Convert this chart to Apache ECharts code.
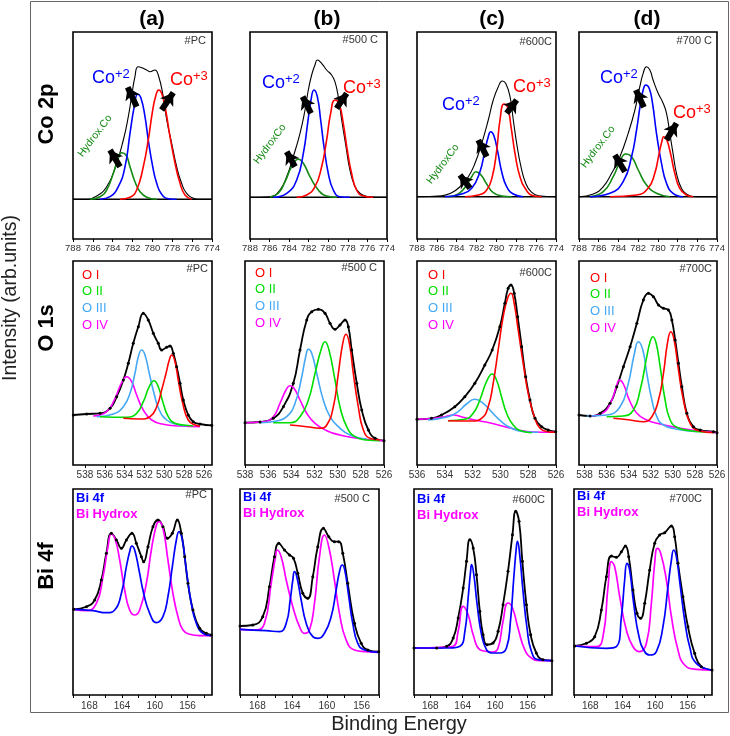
<!DOCTYPE html>
<html><head><meta charset="utf-8">
<script src="https://cdn.jsdelivr.net/npm/echarts@6/dist/echarts.min.js"></script>
<style>html,body{margin:0;padding:0;background:#fff}#c{width:730px;height:736px}</style>
</head><body><div id="c"></div>
<script>
// ---------------- DATA (binding energy eV, intensity arb. units) ----------------
// Co 2p
const coTicks = [774,776,778,780,782,784,786,788];
const co_a_env = [[788,39.7],[786.79,39.7],[785.61,43],[784.61,52.3],[783.77,70.7],[782.93,99],[782.43,122.3],[782.10,142.3],[781.76,162.3],[781.42,172.3],[780.58,169],[780.25,167.3],[779.75,169],[779.41,164],[778.91,142.3],[778.56,119],[778.06,95.7],[777.56,72.3],[777.06,55.7],[776.55,45.7],[775.71,40.3],[775.21,39.7],[774,39.7]];
const co_a_hyd = [[786.29,39.7],[785.28,42.3],[784.61,49],[783.94,65.7],[783.44,80.7],[783.10,86.3],[782.66,84],[782.26,72.3],[781.76,57.3],[781.25,47.3],[780.58,41.7],[779.57,39.7]];
const co_a_c2 = [[785.28,39.7],[784.27,42.3],[783.44,52.3],[782.76,72.3],[782.26,105.7],[781.83,132.3],[781.48,144.7],[781.15,140.7],[780.75,122.3],[780.42,99],[779.97,72.3],[779.57,55.7],[779.07,44.7],[778.40,40.3],[777.56,39.7]];
const co_a_c3 = [[783.27,39.7],[782.26,41.7],[781.59,49],[780.92,72.3],[780.42,99],[779.97,129],[779.64,144],[779.37,149],[779.07,145.7],[778.67,129],[778.23,102.3],[777.72,75.7],[777.22,55.7],[776.72,44],[776.05,39.7]];
const co_a_base = [[788,39.7],[774,39.7]];
const co_a_arrows = [[[781.59,132.3],[782.49,151.7]],[[779.07,129],[777.9,146.3]],[[783.27,72.3],[784.27,89]]];

const co_b_env = [[788,41.7],[785.96,42.3],[784.94,49],[784.25,62.3],[783.58,82.3],[782.89,105.7],[782.38,129],[782.04,149],[781.70,164],[781.36,174],[781.12,179],[780.68,175.7],[780.17,169],[779.66,164],[779.32,157.3],[778.98,142.3],[778.63,119],[778.19,92.3],[777.79,69],[777.27,52.3],[776.76,45.7],[775.92,42.3],[774.04,41.7]];
const co_b_hyd = [[785.96,41.7],[785.11,45.7],[784.42,57.3],[783.74,72.3],[783.06,79.7],[782.55,75.7],[781.87,62.3],[781.02,49],[780.17,43],[779.15,41.7]];
const co_b_c2 = [[785.62,41.7],[784.25,45.7],[783.23,59],[782.55,85.7],[782.11,115.7],[781.77,139],[781.46,149],[781.12,142.3],[780.78,119],[780.44,92.3],[780.00,65.7],[779.49,49],[778.81,42.3],[777.79,41.7]];
const co_b_c3 = [[783.23,41.7],[782.21,44],[781.36,52.3],[780.68,72.3],[780.17,99],[779.76,125.7],[779.32,139],[778.91,135.7],[778.47,115.7],[778.06,89],[777.62,65.7],[777.11,49],[776.43,43],[775.41,41.7]];
const co_b_base = [[788,41.7],[774,41.7]];
const co_b_arrows = [[[781.77,125.7],[782.62,142.3]],[[779.15,130.7],[778.12,145.7]],[[783.40,72.3],[784.25,87.3]]];

const co_c_env = [[787.97,42.3],[785.51,43.3],[784.51,46.3],[783.67,52.3],[782.83,62.3],[782.16,75.7],[781.48,95.7],[780.82,119],[780.32,139],[779.81,152.3],[779.41,158],[779.07,155.7],[778.63,142.3],[778.30,119],[777.96,95.7],[777.53,72.3],[777.05,55.7],[776.52,47.3],[775.78,43.3],[774.03,42.3]];
const co_c_hyd = [[784.85,42.3],[783.84,45],[783.0,54],[782.49,62.3],[782.06,67.3],[781.55,64],[780.98,55],[780.32,46.3],[779.47,43],[778.46,42.3]];
const co_c_c2 = [[785.18,42.3],[783.50,45],[782.49,50.7],[781.66,67.3],[781.15,89],[780.82,102.3],[780.58,107.3],[780.28,104],[779.87,87.3],[779.47,67.3],[778.97,52.3],[778.30,45],[777.30,42.3]];
const co_c_c3 = [[783.17,42.3],[781.83,44],[780.98,49],[780.42,62.3],[779.97,89],[779.64,119],[779.24,135],[778.87,131.7],[778.53,112.3],[778.13,85.7],[777.63,62.3],[776.95,48.3],[776.29,43.3],[775.44,42.3]];
const co_c_base = [[788,42.3],[774,42.3]];
const co_c_arrows = [[[780.98,82.3],[781.83,99]],[[778.97,125.7],[777.96,139]],[[782.66,50.7],[783.67,64]]];

const co_d_env = [[788,42.3],[786.55,45],[785.54,52.3],[784.69,65.7],[783.85,82.3],[783.01,105.7],[782.33,129],[781.83,152.3],[781.49,165.7],[781.15,172.3],[780.81,169],[780.48,159],[779.97,145.7],[779.53,137.3],[779.12,125.7],[778.79,105.7],[778.46,85.7],[778.11,65.7],[777.61,50.7],[777.10,45],[776.09,42.3],[774,42.3]];
const co_d_hyd = [[786.89,42.3],[785.54,47.3],[784.53,62.3],[783.85,77.3],[783.27,85],[782.67,82.3],[781.99,69],[781.15,54],[780.14,45.7],[778.79,42.3]];
const co_d_c2 = [[786.89,42.3],[784.86,45.7],[783.52,57.3],[782.67,82.3],[782.16,109],[781.76,135.7],[781.49,149],[781.22,154],[780.88,150.7],[780.54,135.7],[780.14,105.7],[779.63,75.7],[779.12,55.7],[778.46,45.7],[777.44,42.3]];
const co_d_c3 = [[784.86,42.3],[782.16,44],[780.99,50.7],[780.31,65.7],[779.87,85.7],[779.60,97.3],[779.40,102.3],[779.12,99.7],[778.72,85.7],[778.28,65.7],[777.78,50.7],[777.10,44],[776.43,42.3]];
const co_d_base = [[788,42.3],[774,42.3]];
const co_d_arrows = [[[781.42,131.7],[782.23,149]],[[779.12,99],[778.11,115.7]],[[783.34,67.3],[784.36,84]]];

// O 1s
const oTicksA = [526,528,530,532,534,536,538];
const oTicksB = [526,528,530,532,534,536,538];
const oTicksC = [526,528,530,532,534,536];
const oTicksD = [526,528,530,532,534,536,538];
const o_a_env = [[539.17,50],[537.82,51],[536.48,51.7],[535.47,56.7],[534.80,68.3],[534.13,85],[533.63,101.7],[533.13,121.7],[532.62,138.3],[532.12,151.7],[531.62,145],[531.11,131.7],[530.61,121.7],[530.27,115],[529.77,117.7],[529.43,119],[529.10,111.7],[528.76,98.3],[528.42,81.7],[528.09,65],[527.59,50],[527.09,43.3],[526.41,41],[525.23,39.7]];
const o_a_1 = [[534.13,46.7],[532.45,46],[531.45,48.3],[530.77,58.3],[530.27,75],[529.83,91.7],[529.50,105],[529.26,110],[528.93,103.3],[528.60,85],[528.15,61.7],[527.59,45],[526.91,40],[526.41,39]];
const o_a_2 = [[536.48,48.3],[533.79,47.7],[532.79,51.7],[532.12,63.3],[531.52,78.3],[531.04,84.3],[530.61,78.3],[530.11,61.7],[529.60,48.3],[528.93,41.7],[528.09,40],[527.09,39]];
const o_a_3 = [[536.81,48.3],[535.14,51],[534.13,58.3],[533.46,71.7],[532.96,91.7],[532.62,108.3],[532.28,115],[531.95,110],[531.52,91.7],[531.04,71.7],[530.51,55],[529.76,45],[528.76,40.7],[527.75,39]];
const o_a_4 = [[537.16,49],[535.81,53.3],[534.97,66.7],[534.30,82.3],[533.79,88.3],[533.29,83.3],[532.79,70],[532.12,55],[531.27,45],[530.11,40.7],[528.42,39],[526.41,38.3]];

const o_b_env = [[538,42.3],[536.70,43],[535.56,46.7],[534.69,58.3],[533.83,81.7],[533.25,115],[532.67,145],[532.24,153.3],[531.67,155.7],[531.09,151.7],[530.66,141.7],[530.23,135.7],[529.80,140],[529.36,145],[529.08,138.3],[528.79,115],[528.35,81.7],[527.92,55],[527.35,35],[526.77,26.7],[526,24.3]];
const o_b_1 = [[534.11,40],[532.67,38.3],[531.52,36.7],[530.94,40],[530.37,58.3],[529.94,91.7],[529.56,121.7],[529.28,130.7],[528.99,121.7],[528.65,91.7],[528.22,58.3],[527.78,35],[527.21,26.7],[526.34,25]];
const o_b_2 = [[535.56,42.3],[534.11,42.3],[533.25,48.3],[532.53,65],[531.95,91.7],[531.44,115],[531.09,123.3],[530.75,115],[530.23,85],[529.80,58.3],[529.22,38.3],[528.50,28.3],[527.49,25],[526.34,24.3]];
const o_b_3 = [[536.70,42.3],[535.26,44],[534.40,48.3],[533.68,61.7],[533.10,88.3],[532.76,108.3],[532.53,115.7],[532.24,111.7],[531.81,91.7],[531.24,65],[530.66,48.3],[529.94,38.3],[528.93,30],[527.49,25.7]];
const o_b_4 = [[538,42.3],[536.42,43.3],[535.56,48.3],[534.98,61.7],[534.46,75],[534.11,79.3],[533.77,76.7],[533.25,65],[532.67,51.7],[531.95,41.7],[530.94,34.3],[529.80,30],[528.35,26.7],[526,24.3]];

const o_c_env = [[536,45.7],[534.96,46.7],[534.24,50],[533.28,58.3],[532.56,68.3],[531.84,81.7],[531.12,100],[530.59,115],[530.04,138.3],[529.68,161.7],[529.44,176.7],[529.24,180],[529.01,171.7],[528.76,148.3],[528.47,118.3],[528.18,88.3],[527.87,65],[527.51,46.7],[527.03,38.3],[526.56,35],[526.02,33.3]];
const o_c_1 = [[533.76,44.3],[532.08,44],[531.36,46.7],[530.88,58.3],[530.52,81.7],[530.16,115],[529.80,148.3],[529.48,166.7],[529.24,171.7],[529.01,161.7],[528.72,135],[528.36,101.7],[528.0,71.7],[527.56,48.3],[527.15,36.7],[526.56,33.3],[526.02,32.7]];
const o_c_2 = [[533.76,44.3],[532.56,45.7],[531.96,51.7],[531.48,65],[531.0,83.3],[530.59,91],[530.28,85],[529.92,68.3],[529.55,51.7],[529.08,40],[528.47,34],[527.75,32.3]];
const o_c_3 = [[535.21,45],[533.76,48.3],[533.04,53.3],[532.44,61],[531.84,65.7],[531.24,61.7],[530.64,53.3],[529.92,43.3],[529.19,36.7],[528.23,33.3],[527.28,32.7]];
const o_c_4 = [[536,45.7],[534.72,46.7],[534.0,48.3],[533.40,50],[532.68,47.7],[531.84,45],[530.64,41.7],[529.68,38.3],[528.72,35],[527.75,33],[526.02,32.7]];

const o_d_env = [[538.5,50],[537.50,49],[536.59,51.7],[535.69,61.7],[535.08,78.3],[534.48,98.3],[533.87,118.3],[533.26,141.7],[532.67,165],[532.21,171.7],[531.76,168.3],[531.30,160],[530.85,156.7],[530.40,155],[530.09,145],[529.79,125],[529.49,101.7],[529.18,78.3],[528.73,51.7],[528.13,38.3],[527.52,35],[526.31,33.3],[526,32.3]];
const o_d_1 = [[535.39,46.7],[533.87,45],[532.67,43.3],[531.90,48.3],[531.30,65],[530.85,91.7],[530.49,121.7],[530.18,133.3],[529.88,125],[529.49,95],[529.04,65],[528.43,41.7],[527.67,34.3],[526.31,32.3]];
const o_d_2 = [[535.99,48.3],[534.48,49],[533.57,55],[532.96,75],[532.36,108.3],[532.06,123.3],[531.81,128.3],[531.51,121.7],[531.15,98.3],[530.70,65],[530.24,45],[529.63,37.7],[528.43,34.3],[526.91,32.7]];
const o_d_3 = [[537.80,49],[535.99,50],[534.78,58.3],[534.03,81.7],[533.51,110],[533.12,123.3],[532.72,115],[532.36,91.7],[531.90,65],[531.45,48.3],[530.85,40],[529.63,35.7],[527.82,33.3]];
const o_d_4 = [[537.50,49],[536.29,52.3],[535.53,65],[535.08,80],[534.84,85],[534.48,81],[533.94,65],[533.26,51.7],[532.36,45],[531.15,41],[529.33,36.7],[527.82,34.3],[526,32.3]];

// Bi 4f
const biTicks = [154,156,158,160,162,164,166,168,170];
const biLabels = [156,160,164,168];
const bi_a_env = [[169.91,85.7],[168.36,88.3],[167.35,95],[166.53,115],[165.92,141.7],[165.31,161.7],[164.69,155],[164.08,146.7],[163.47,155],[162.79,161.7],[162.25,151.7],[161.64,138.3],[161.36,133.3],[160.83,148.3],[160.22,168.3],[159.61,175],[159.0,168.3],[158.46,156.7],[157.85,161.7],[157.24,175],[156.75,161.7],[156.34,138.3],[155.94,111.7],[155.33,85],[154.51,66.7],[153.69,61.7],[153.08,60]];
const bi_a_hyd = [[169.91,85.7],[168.36,84.3],[167.14,91.7],[166.33,118.3],[165.72,148.3],[165.31,161],[164.82,155],[164.29,135],[163.68,105],[163.07,85],[162.46,80],[161.85,85],[161.03,111.7],[160.42,145],[159.80,170],[159.49,173.3],[159.0,166.7],[158.39,135],[157.78,101.7],[157.16,78.3],[156.55,65],[155.73,60.7],[154.51,59.3],[153.08,59.3]];
const bi_a_bi = [[169.91,85.7],[167.56,84.3],[165.92,82.3],[164.90,85],[164.08,101.7],[163.47,128.3],[163.07,143.3],[162.79,149],[162.46,145],[161.93,125],[161.36,101.7],[160.62,81.7],[159.80,72.3],[159.0,78.3],[158.39,98.3],[157.85,128.3],[157.36,155],[157.04,163.3],[156.63,155],[156.14,125],[155.53,91.7],[154.92,71.7],[154.11,61.7],[153.08,59.3]];

const bi_b_env = [[170,69],[168.53,70],[167.38,78.3],[166.61,108.3],[166.03,138.3],[165.54,151.7],[164.88,145],[164.30,140],[163.84,136.7],[163.35,121.7],[162.77,101.7],[162.20,96.7],[161.62,118.3],[161.05,148.3],[160.39,166.7],[159.78,158.3],[159.13,153.3],[158.63,153.3],[158.17,141.7],[157.60,111.7],[156.82,71.7],[156.05,51.7],[155.29,45],[154.03,43.3]];
const bi_b_hyd = [[170,65.7],[168.14,65],[167.18,71.7],[166.41,111.7],[165.91,138.3],[165.72,145],[165.26,138.3],[164.68,115],[163.92,88.3],[163.15,68.3],[162.58,61.7],[162.0,65],[161.43,91.7],[160.85,138.3],[160.28,160],[159.78,148.3],[159.13,115],[158.55,81.7],[157.78,55],[156.82,45],[155.48,43.3],[154.03,42.7]];
const bi_b_bi = [[170,65.7],[166.99,64.3],[165.45,63.3],[164.68,71.7],[164.22,95],[163.92,115],[163.73,123.3],[163.46,118.3],[162.96,95],[162.38,71.7],[161.62,58.3],[161.05,56.7],[160.28,61.7],[159.51,78.3],[158.93,105],[158.55,123.3],[158.24,130],[157.94,125],[157.48,98.3],[157.02,71.7],[156.44,51.7],[155.67,45],[154.03,42.7]];

const bi_c_env = [[170,47],[167.21,47],[165.98,48.7],[165.17,57],[164.56,77],[163.94,107],[163.53,133.7],[163.12,155.3],[162.71,147],[162.30,120.3],[161.89,83.7],[161.49,60.3],[161.0,50.3],[160.26,52],[159.64,63.7],[159.03,90.3],[158.42,123.7],[157.87,160.3],[157.47,183.7],[157.06,173.7],[156.65,133.7],[156.15,90.3],[155.63,60.3],[154.93,42],[154.12,35.3],[153.01,34.3]];
const bi_c_bi = [[170,47],[165.58,47],[164.35,48.7],[163.73,63.7],[163.33,97],[163.03,123.7],[162.91,130.3],[162.63,120.3],[162.22,90.3],[161.68,60.3],[161.07,45.3],[160.45,42],[159.43,42],[158.61,47],[158.12,73.7],[157.71,117],[157.38,148.7],[157.26,153.7],[156.98,140.3],[156.57,103.7],[156.08,67],[155.54,43.7],[154.73,35.3],[153.01,34.3]];
const bi_c_hyd = [[170,47],[166.40,47.7],[165.17,48.7],[164.56,63.7],[163.94,88.7],[163.33,80.3],[162.71,60.3],[161.89,45.3],[161.07,43.7],[160.26,43],[159.64,47],[159.03,73.7],[158.42,92],[157.87,87],[157.19,67],[156.36,45.3],[155.54,37],[154.52,34.3],[153.01,34.3]];

const bi_d_env = [[169.91,49],[168.47,51.7],[167.45,58.3],[166.63,85],[166.01,118.3],[165.39,139],[164.78,137.7],[164.16,143.3],[163.67,149],[163.26,138.3],[162.73,105],[162.24,81.7],[161.79,76.7],[161.29,91.7],[160.68,125],[160.06,151.7],[159.45,160],[158.83,162.3],[158.0,169],[157.60,158.3],[157.19,131.7],[156.58,98.3],[155.96,68.3],[155.14,41.7],[154.31,28.3],[153.0,25]];
const bi_d_hyd = [[169.91,49],[167.24,48.3],[166.43,58.3],[165.81,108.3],[165.39,133.3],[164.99,128.3],[164.37,98.3],[163.55,65],[162.73,48.3],[161.91,43.3],[161.08,51.7],[160.47,91.7],[160.06,131.7],[159.73,146.7],[159.32,141.7],[158.62,115],[158.0,78.3],[157.19,45],[156.37,30],[154.93,25.7],[153.0,25]];
const bi_d_bi = [[169.91,49],[166.01,46.7],[164.78,48.3],[164.16,78.3],[163.76,115],[163.47,131.7],[163.14,125],[162.65,91.7],[161.99,58.3],[161.29,43.3],[160.68,40],[159.85,43.3],[159.04,68.3],[158.42,108.3],[158.0,135],[157.72,145],[157.39,138.3],[156.90,108.3],[156.37,75],[155.75,48.3],[154.93,31.7],[153.0,25]];

// Text
const colLabels = ['(a)','(b)','(c)','(d)'];
const rowLabels = ['Co 2p','O 1s','Bi 4f'];
const sampleTags = ['#PC','#500 C','#600C','#700 C'];
const sampleTagsO = ['#PC','#500 C','#600C','#700C'];
const sampleTagsBi = ['#PC','#500 C','#600C','#700C'];
const oLegend = ['O I','O II','O III','O IV'];
const biLegend = ['Bi 4f','Bi Hydrox'];

// ---------------- LAYOUT / STYLE ----------------
const RED='#ff0000', BLUE='#0000ff', DGREEN='#138a13', GREEN='#00dd00', LBLUE='#45a8f5', MAG='#ff00ff', BLK='#000000';
const FONT = 'Liberation Sans, Arial, sans-serif';
const rowsGeo = [{top:32,h:207,fs:9.5,m:4},{top:261,h:204,fs:10,m:5},{top:489,h:206,fs:10,m:6}];
const panels = [
  {row:0,left:73,width:139,min:774,max:788,ticks:coTicks,labels:coTicks,
   series:[[co_a_base,BLK,1.4],[co_a_env,BLK,1.1],[co_a_hyd,DGREEN,1.6],[co_a_c2,BLUE,1.6],[co_a_c3,RED,1.6]],arrows:co_a_arrows},
  {row:0,left:250,width:137,min:774,max:788,ticks:coTicks,labels:coTicks,
   series:[[co_b_base,BLK,1.4],[co_b_env,BLK,1.1],[co_b_hyd,DGREEN,1.6],[co_b_c2,BLUE,1.6],[co_b_c3,RED,1.6]],arrows:co_b_arrows},
  {row:0,left:417,width:139,min:774,max:788,ticks:coTicks,labels:coTicks,
   series:[[co_c_base,BLK,1.4],[co_c_env,BLK,1.1],[co_c_hyd,DGREEN,1.6],[co_c_c2,BLUE,1.6],[co_c_c3,RED,1.6]],arrows:co_c_arrows},
  {row:0,left:579,width:138,min:774,max:788,ticks:coTicks,labels:coTicks,
   series:[[co_d_base,BLK,1.4],[co_d_env,BLK,1.1],[co_d_hyd,DGREEN,1.6],[co_d_c2,BLUE,1.6],[co_d_c3,RED,1.6]],arrows:co_d_arrows},
  {row:1,left:73,width:139,min:525.2,max:539.2,ticks:oTicksA,labels:oTicksA,
   series:[[o_a_env,BLK,1.8,true],[o_a_4,MAG,1.6],[o_a_3,LBLUE,1.6],[o_a_2,GREEN,1.6],[o_a_1,RED,1.6]]},
  {row:1,left:245,width:139,min:526,max:538,ticks:oTicksB,labels:oTicksB,
   series:[[o_b_env,BLK,1.8,true],[o_b_4,MAG,1.6],[o_b_3,LBLUE,1.6],[o_b_2,GREEN,1.6],[o_b_1,RED,1.6]]},
  {row:1,left:417,width:139,min:526,max:536,ticks:oTicksC,labels:oTicksC,
   series:[[o_c_env,BLK,1.8,true],[o_c_4,MAG,1.6],[o_c_3,LBLUE,1.6],[o_c_2,GREEN,1.6],[o_c_1,RED,1.6]]},
  {row:1,left:579,width:138,min:526,max:538.5,ticks:oTicksD,labels:oTicksD,
   series:[[o_d_env,BLK,1.8,true],[o_d_4,MAG,1.6],[o_d_3,LBLUE,1.6],[o_d_2,GREEN,1.6],[o_d_1,RED,1.6]]},
  {row:2,left:73,width:139,min:153,max:170,ticks:biTicks,labels:biLabels,
   series:[[bi_a_env,BLK,1.8,true],[bi_a_hyd,MAG,1.7],[bi_a_bi,BLUE,1.7]]},
  {row:2,left:240,width:139,min:154,max:170,ticks:biTicks,labels:biLabels,
   series:[[bi_b_env,BLK,1.8,true],[bi_b_hyd,MAG,1.7],[bi_b_bi,BLUE,1.7]]},
  {row:2,left:414,width:138,min:153,max:170,ticks:biTicks,labels:biLabels,
   series:[[bi_c_env,BLK,1.8,true],[bi_c_hyd,MAG,1.7],[bi_c_bi,BLUE,1.7]]},
  {row:2,left:574,width:138,min:153,max:170,ticks:biTicks,labels:biLabels,
   series:[[bi_d_env,BLK,1.8,true],[bi_d_hyd,MAG,1.7],[bi_d_bi,BLUE,1.7]]}
];

const grid=[], xAxis=[], yAxis=[], series=[];
panels.forEach((p,i)=>{
  const r = rowsGeo[p.row];
  grid.push({left:p.left, top:r.top, width:p.width, height:r.h, show:true, borderColor:'#000', borderWidth:1.6, backgroundColor:'rgba(0,0,0,0)'});
  xAxis.push({gridIndex:i, type:'value', min:p.min, max:p.max, inverse:true,
    axisLine:{show:false}, splitLine:{show:false},
    axisTick:{show:true, length:3, lineStyle:{color:'#000',width:1}, customValues:p.ticks.filter(v=>v>=p.min&&v<=p.max)},
    axisLabel:{fontSize:r.fs, color:'#333', margin:r.m, fontFamily:FONT, customValues:p.labels, hideOverlap:false}});
  yAxis.push({gridIndex:i, type:'value', min:0, max:r.h, show:false});
  p.series.forEach(s=>{
    series.push({type:'line', xAxisIndex:i, yAxisIndex:i, data:s[0], smooth:0.5,
      symbol: s[3]?'circle':'none', symbolSize:3, showSymbol:!!s[3],
      lineStyle:{color:s[1], width:s[2]}, itemStyle:{color:s[1]}, silent:true, animation:false, z:2});
  });
  if (p.arrows) {
    series.push({type:'lines', coordinateSystem:'cartesian2d', xAxisIndex:i, yAxisIndex:i,
      data:p.arrows.map(c=>({coords:c})), symbol:['none','arrow'], symbolSize:[13,12],
      lineStyle:{color:'#000', width:6, opacity:1, curveness:0}, silent:true, animation:false, z:5});
  }
});

// graphic annotations
const g = [];
g.push({type:'rect', shape:{x:30.5,y:1.5,width:698,height:711}, style:{fill:'none', stroke:'#666', lineWidth:1}, silent:true});
const colX=[152,327,492,647];
colLabels.forEach((t,i)=>g.push({type:'text', x:colX[i], y:19, style:{text:t, font:'bold 21px '+FONT, fill:'#000', align:'center', verticalAlign:'middle'}}));
const rowY=[114,328,566];
rowLabels.forEach((t,i)=>g.push({type:'text', x:47, y:rowY[i], rotation:Math.PI/2, style:{text:t, font:'bold 22px '+FONT, fill:'#000', align:'center', verticalAlign:'middle'}}));
g.push({type:'text', x:11, y:298, rotation:Math.PI/2, style:{text:'Intensity (arb.units)', font:'19.5px '+FONT, fill:'#222', align:'center', verticalAlign:'middle'}});
g.push({type:'text', x:399, y:724, style:{text:'Binding Energy', font:'20px '+FONT, fill:'#222', align:'center', verticalAlign:'middle'}});
// Co labels
function coLabel(x,y,sup,color){
  return {type:'text', x:x, y:y, style:{text:'{a|Co}{s|'+sup+'}', align:'left', verticalAlign:'middle',
    rich:{a:{fontSize:18, fontFamily:FONT, fill:color, lineHeight:20}, s:{fontSize:13, fontFamily:FONT, fill:color, verticalAlign:'top', lineHeight:13}}}};
}
[[92,78],[262,83],[442,105],[600,78]].forEach(c=>g.push(coLabel(c[0],c[1],'+2',BLUE)));
[[170,80],[343,88],[513,87],[673,113]].forEach(c=>g.push(coLabel(c[0],c[1],'+3',RED)));
const hydPos=[[95,136,'Hydrox.Co'],[270,144,'HydroxCo'],[443,164,'HydroxCo'],[598,147,'Hydrox.Co']];
hydPos.forEach(h=>g.push({type:'text', x:h[0], y:h[1], rotation:53*Math.PI/180, style:{text:h[2], font:'10.5px '+FONT, fill:DGREEN, align:'center', verticalAlign:'middle'}}));
// sample tags
const tagRight=[[206,41],[378,40],[552,42],[712,41]];
sampleTags.forEach((t,i)=>g.push({type:'text', x:tagRight[i][0], y:tagRight[i][1], style:{text:t, font:'11px '+FONT, fill:'#333', align:'right', verticalAlign:'middle'}}));
const tagRightO=[[208,269],[377,268],[552,273],[712,269]];
sampleTagsO.forEach((t,i)=>g.push({type:'text', x:tagRightO[i][0], y:tagRightO[i][1], style:{text:t, font:'11px '+FONT, fill:'#333', align:'right', verticalAlign:'middle'}}));
const tagRightB=[[207,495],[370,499],[545,500],[702,499]];
sampleTagsBi.forEach((t,i)=>g.push({type:'text', x:tagRightB[i][0], y:tagRightB[i][1], style:{text:t, font:'11px '+FONT, fill:'#333', align:'right', verticalAlign:'middle'}}));
// O legends
const oLegPos=[[82,275],[255,273],[428,275],[590,278]];
const oCols=[RED,GREEN,LBLUE,MAG];
oLegPos.forEach(p=>oLegend.forEach((t,k)=>g.push({type:'text', x:p[0], y:p[1]+k*16.8, style:{text:t, font:'13px '+FONT, fill:oCols[k], align:'left', verticalAlign:'middle'}})));
// Bi legends
const biLegPos=[[76,498],[243,497],[417,499],[577,496]];
biLegPos.forEach(p=>{
  g.push({type:'text', x:p[0], y:p[1], style:{text:biLegend[0], font:'bold 13px '+FONT, fill:BLUE, align:'left', verticalAlign:'middle'}});
  g.push({type:'text', x:p[0], y:p[1]+16, style:{text:biLegend[1], font:'bold 13px '+FONT, fill:MAG, align:'left', verticalAlign:'middle'}});
});

const chart = echarts.init(document.getElementById('c'), null, {renderer:'canvas'});
chart.setOption({animation:false, backgroundColor:'#fff', grid, xAxis, yAxis, series, graphic:{elements:g}});
</script>
</body></html>
